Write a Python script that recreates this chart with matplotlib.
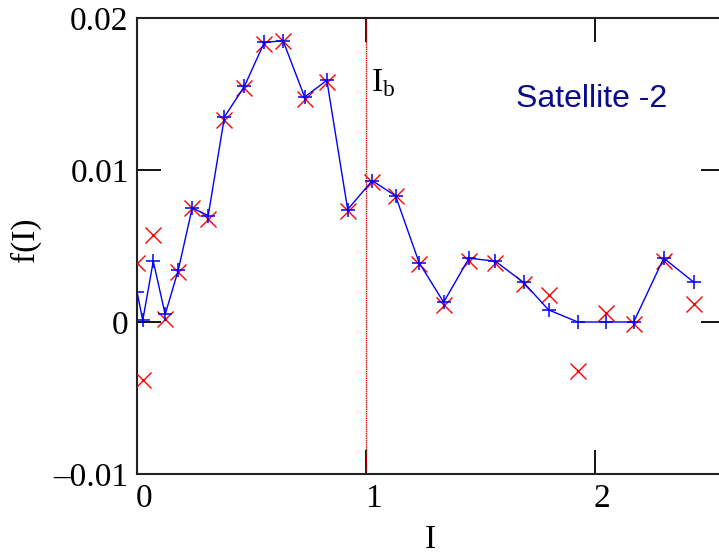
"""Satellite -2 distribution f(I) with the I_b marker."""

import matplotlib.pyplot as plt
import matplotlib.transforms as transforms

# sample positions along I
xValues = [0.0, 0.025, 0.071, 0.123, 0.18, 0.241, 0.311, 0.382, 0.469, 0.556, 0.638, 0.732, 0.829, 0.92,
           1.027, 1.129, 1.232, 1.339, 1.45, 1.565, 1.688, 1.797, 1.925, 2.046, 2.169, 2.3, 2.433]
# blue curve (plus markers joined by a line)
blueValues = [0.002, 0.0001, 0.004, 0.0005, 0.0034, 0.0075, 0.007, 0.0135, 0.0155, 0.0184, 0.0185, 0.0148,
              0.0159, 0.0074, 0.0093, 0.0083, 0.0039, 0.0013, 0.0042, 0.004, 0.0026, 0.0008, 0.0, 0.0, 0.0,
              0.0042, 0.0026]
# red crosses
redValues = [0.0039, -0.0038, 0.0057, 0.0002, 0.0033, 0.0075, 0.0068, 0.0133, 0.0154, 0.0183, 0.0185, 0.0147,
             0.0158, 0.0073, 0.0092, 0.0083, 0.0038, 0.0011, 0.004, 0.0039, 0.0025, 0.0018, -0.0032, 0.0006,
             -0.0001, 0.004, 0.0012]
xTicks = [0, 1, 2]
yTicks = [-0.01, 0, 0.01, 0.02]
yTickLabels = ["\u20130.01", "0", "0.01", "0.02"]
bendPosition = 1.0

serif = ["Liberation Serif", "DejaVu Serif"]

fig = plt.figure(figsize = (7.19, 5.57), dpi = 100)
# right spine sits just past the image edge, as in the original
ax = fig.add_axes([137 / 719, (557 - 474) / 557, (725 - 137) / 719, (474 - 18) / 557])

ax.axvline(bendPosition, color = "#d40000", linewidth = 1.0, linestyle = (0, (1, 0.6)), zorder = 2)
ax.plot(xValues, redValues, linestyle = "none", marker = "x", markersize = 11, markeredgewidth = 1.0,
        color = "#ff0000", zorder = 3)
ax.plot(xValues, blueValues, color = "#0000ff", linewidth = 1.0, marker = "+", markersize = 10,
        markeredgewidth = 1.1, zorder = 4)

ax.set_xlim(0, (725 - 137) / 229)
ax.set_ylim(-0.01, 0.02)
ax.set_xticks(xTicks)
ax.set_xticklabels([str(t) for t in xTicks], family = serif, fontsize = 24)
ax.set_yticks(yTicks)
ax.set_yticklabels(yTickLabels, family = serif, fontsize = 24)
ax.tick_params(direction = "in", length = 17, width = 1.3, top = True, right = True, pad = 6)
ax.tick_params(axis = "x", pad = 7)
for spine in ax.spines.values():
    spine.set_linewidth(1.5)
    spine.set_color("#222222")

# gnuplot puts the x tick labels a little to the right of the ticks
shift = transforms.ScaledTranslation(7 / 100, 0, fig.dpi_scale_trans)
for label in ax.get_xticklabels():
    label.set_transform(label.get_transform() + shift)

ax.set_xlabel("I", family = serif, fontsize = 24, va = "center")
ax.set_ylabel("f(I)", family = serif, fontsize = 24, va = "center")
ax.xaxis.set_label_coords(0.498, -0.145)
ax.yaxis.set_label_coords(-0.19, 0.513)

ax.text(1.02, 0.0157, "I$_\\mathregular{b}$", family = serif, fontsize = 24, va = "center", ha = "left")
ax.text(1.655, 0.0147, "Satellite -2", family = ["Liberation Sans", "DejaVu Sans"], fontsize = 23,
        color = "#0b0b8a", va = "center", ha = "left")

plt.savefig("out.png", dpi = 100)
